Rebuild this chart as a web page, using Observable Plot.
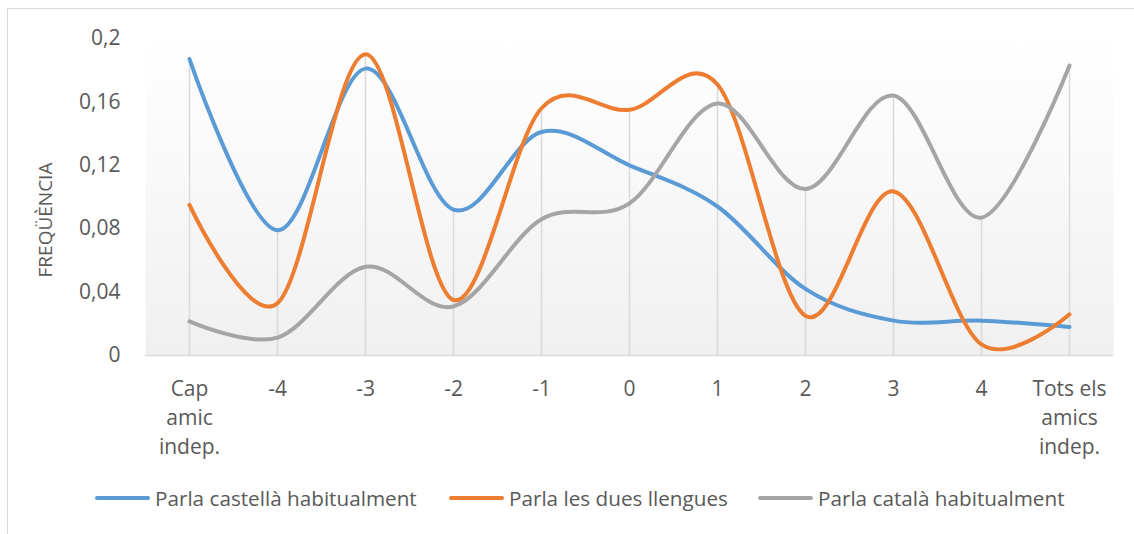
<!DOCTYPE html>
<html>
<head>
<meta charset="utf-8">
<script src="https://cdn.jsdelivr.net/npm/d3@7"></script>
<script src="https://cdn.jsdelivr.net/npm/@observablehq/plot@0.6"></script>
<style>
  body { margin: 0; background: #fff; font-family: "Open Sans", sans-serif; }
  #wrap { position: relative; width: 1134px; height: 534px; overflow: hidden; }
  #border { position: absolute; left: 7px; top: 8px; width: 1140px; height: 540px; border: 1px solid #d9d9d9; box-sizing: border-box; }
  #chart { position: absolute; left: 0; top: 0; }
  #legend { position: absolute; left: 0; top: 484px; width: 1134px; height: 30px; }
  .item { position: absolute; top: 0; display: flex; align-items: center; height: 28px; color: #595959; font-size: 20.7px; white-space: nowrap; }
  .sw { width: 55px; height: 4px; border-radius: 2px; margin-right: 5px; }
</style>
</head>
<body>
<div id="wrap">
  <div id="border"></div>
  <div id="chart"></div>
  <div id="legend"></div>
</div>
<script>
const categories = ["Cap amic indep.", "-4", "-3", "-2", "-1", "0", "1", "2", "3", "4", "Tots els amics indep."];
const tickLabels = ["Cap\namic\nindep.", "-4", "-3", "-2", "-1", "0", "1", "2", "3", "4", "Tots els\namics\nindep."];
const seriesNames = ["Parla castellà habitualment", "Parla les dues llengues", "Parla català habitualment"];
const seriesColors = ["#5b9bd5", "#ed7d31", "#a5a5a5"];
const castella = [0.187, 0.079, 0.181, 0.092, 0.141, 0.12, 0.094, 0.042, 0.022, 0.022, 0.018];
const dues = [0.095, 0.033, 0.190, 0.035, 0.156, 0.155, 0.171, 0.025, 0.1035, 0.007, 0.026];
const catala = [0.0215, 0.0113, 0.056, 0.031, 0.086, 0.096, 0.159, 0.105, 0.164, 0.087, 0.183];
const yTicks = [0, 0.04, 0.08, 0.12, 0.16, 0.2];

const seriesValues = [castella, dues, catala];
const rows = [];
seriesValues.forEach((vals, s) => vals.forEach((v, i) => rows.push({cat: categories[i], value: v, series: seriesNames[s]})));
const drops = categories.map((c, i) => ({cat: c, top: Math.max(castella[i], dues[i], catala[i])}));

const gradMark = () => {
  const svgNS = "http://www.w3.org/2000/svg";
  const defs = document.createElementNS(svgNS, "defs");
  defs.innerHTML = `<linearGradient id="bg" x1="0" y1="0" x2="0" y2="1">
     <stop offset="0" stop-color="#ffffff"/><stop offset="1" stop-color="#f0f0f0"/></linearGradient>`;
  return defs;
};

const chart = Plot.plot({
  width: 1134,
  height: 470,
  marginTop: 38,
  marginBottom: 115,
  marginLeft: 145,
  marginRight: 21,
  style: {fontFamily: "Open Sans, sans-serif", color: "#595959", background: "transparent"},
  x: {type: "point", domain: categories, padding: 0.5, label: null},
  y: {domain: [0, 0.2], label: null},
  color: {domain: seriesNames, range: seriesColors},
  marks: [
    gradMark,
    Plot.frame({fill: "url(#bg)", stroke: null}),
    Plot.ruleX(drops, {x: "cat", y1: 0, y2: "top", stroke: "#d9d9d9", strokeWidth: 1.5}),
    Plot.ruleY([0], {stroke: "#d9d9d9", strokeWidth: 1.5}),
    Plot.axisY({ticks: yTicks, tickSize: 0, tickPadding: 25, fontSize: 21, fill: "#595959",
      tickFormat: d => String(d).replace(".", ","), label: null}),
    Plot.axisX({tickSize: 0, tickPadding: 20, fontSize: 21, fill: "#595959", lineHeight: 1.38,
      tickFormat: (d, i) => tickLabels[categories.indexOf(d)], label: null}),
    Plot.lineY(rows, {x: "cat", y: "value", z: "series", stroke: "series", strokeWidth: 4,
      curve: "cardinal", strokeLinecap: "round", strokeLinejoin: "round"}),
    Plot.text(["FREQÜÈNCIA"], {frameAnchor: "left", dx: -100, dy: 23, rotate: -90, textAnchor: "middle",
      fontSize: 19, fill: "#595959", text: d => d})
  ]
});
document.getElementById("chart").appendChild(chart);

const lx = [95, 449, 758];
const legend = document.getElementById("legend");
seriesNames.forEach((n, i) => {
  const it = document.createElement("div");
  it.className = "item";
  it.style.left = lx[i] + "px";
  it.innerHTML = `<div class="sw" style="background:${seriesColors[i]}"></div><span>${n}</span>`;
  legend.appendChild(it);
});
</script>
</body>
</html>
